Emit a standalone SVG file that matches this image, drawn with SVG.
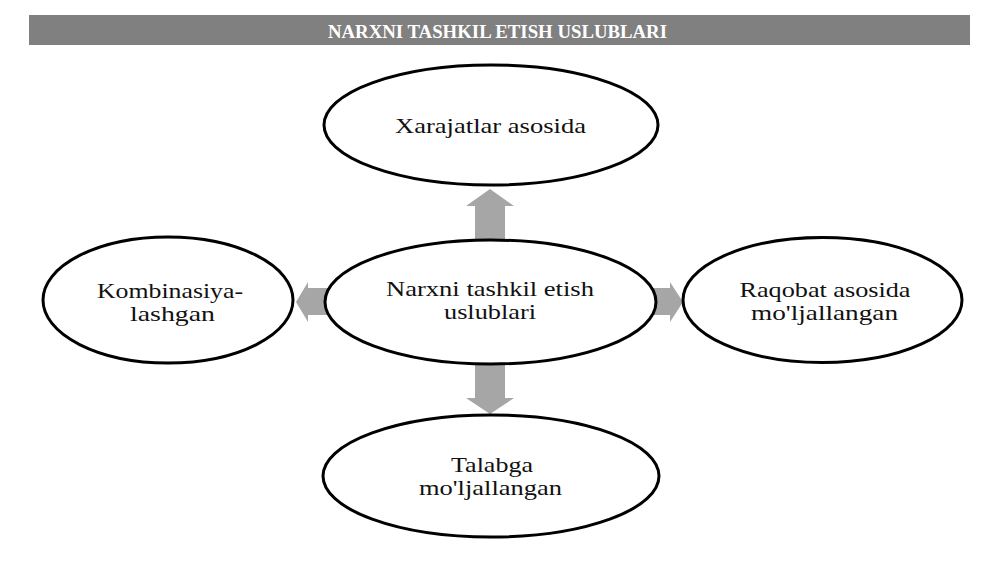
<svg xmlns="http://www.w3.org/2000/svg" width="1000" height="562" viewBox="0 0 1000 562">
<style>
.node ellipse{fill:#fff;stroke:#000;stroke-width:3}
.lbl{font-family:"Liberation Serif","Times New Roman",serif;font-size:21px;fill:#111;text-anchor:middle}
.arrow{fill:#a6a6a6;stroke:none}
.title{font-family:"Liberation Serif","Times New Roman",serif;font-size:18px;font-weight:bold;fill:#fff;text-anchor:middle}
</style>
<rect width="1000" height="562" fill="#fff"/>
<g id="header">
<rect x="29" y="15" width="941" height="30" fill="#808080"/>
<text class="title" x="497.5" y="38" textLength="339" lengthAdjust="spacingAndGlyphs">NARXNI TASHKIL ETISH USLUBLARI</text>
</g>
<g id="connectors">
<polygon class="arrow" points="475,245 475,206 466,206 490,189 514,206 505,206 505,245"/>
<polygon class="arrow" points="475,358 505,358 505,398 514,398 490,414 466,398 475,398"/>
<polygon class="arrow" points="328,288 308,288 308,282 296,302 308,322 308,315 328,315"/>
<polygon class="arrow" points="653,288 670,288 670,282 683,302 670,322 670,315 653,315"/>
</g>
<g id="node-top" class="node">
<ellipse cx="491" cy="125" rx="167" ry="60"/>
<text class="lbl" x="490.5" y="133" textLength="191" lengthAdjust="spacingAndGlyphs">Xarajatlar asosida</text>
</g>
<g id="node-center" class="node">
<ellipse cx="490.5" cy="302" rx="165.5" ry="62"/>
<text class="lbl" x="490" y="296" textLength="208" lengthAdjust="spacingAndGlyphs">Narxni tashkil etish</text>
<text class="lbl" x="490" y="319" textLength="92" lengthAdjust="spacingAndGlyphs">uslublari</text>
</g>
<g id="node-left" class="node">
<ellipse cx="168" cy="300" rx="125" ry="63"/>
<text class="lbl" x="170" y="298" textLength="146" lengthAdjust="spacingAndGlyphs">Kombinasiya-</text>
<text class="lbl" x="172.5" y="321" textLength="85" lengthAdjust="spacingAndGlyphs">lashgan</text>
</g>
<g id="node-right" class="node">
<ellipse cx="822.5" cy="300" rx="139.5" ry="62.5"/>
<text class="lbl" x="825" y="297" textLength="171" lengthAdjust="spacingAndGlyphs">Raqobat asosida</text>
<text class="lbl" x="824.5" y="320" textLength="147" lengthAdjust="spacingAndGlyphs">mo'ljallangan</text>
</g>
<g id="node-bottom" class="node">
<ellipse cx="491" cy="476" rx="168" ry="61"/>
<text class="lbl" x="492" y="472" textLength="82" lengthAdjust="spacingAndGlyphs">Talabga</text>
<text class="lbl" x="490.5" y="495" textLength="143" lengthAdjust="spacingAndGlyphs">mo'ljallangan</text>
</g>
</svg>
